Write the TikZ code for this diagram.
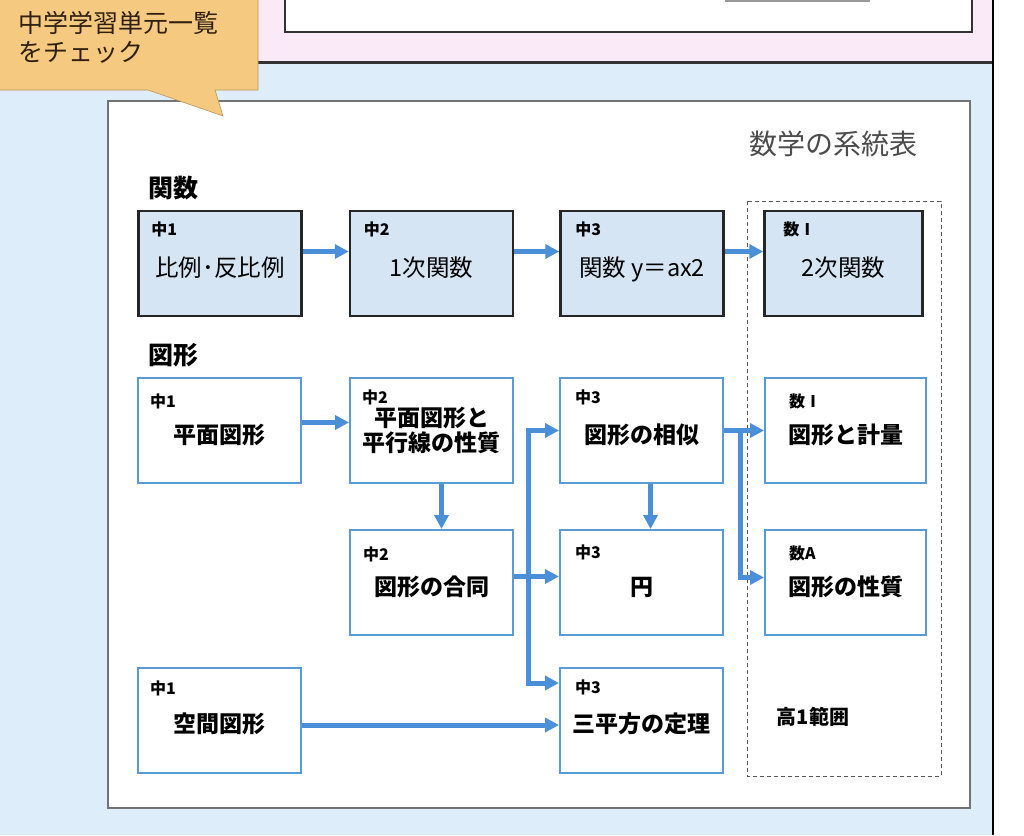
\documentclass[tikz,border=0pt]{standalone}
\usepackage{fontspec}
\setmainfont{Noto Sans CJK JP}
\usepackage{tikz}
\usetikzlibrary{arrows.meta,positioning}
\definecolor{bgblue}{HTML}{DDEDF9}
\definecolor{bgpink}{HTML}{FAE9F6}
\definecolor{bubble}{HTML}{F5C97F}
\definecolor{flowblue}{HTML}{4A8FD8}
\definecolor{boxblue}{HTML}{5B9BD5}
\definecolor{fillblue}{HTML}{D5E5F4}
\tikzstyle{func box}=[draw=black!85, line width=2.5pt, fill=fillblue, minimum width=163pt, minimum height=105pt, inner sep=0pt, font=\fontsize{23.5}{27}\selectfont, text height=28pt, text depth=2.5pt]
\tikzstyle{geo box}=[draw=boxblue, line width=2pt, fill=white, minimum width=163pt, minimum height=105pt, inner sep=0pt, font=\bfseries\fontsize{23}{25}\selectfont, text height=28pt, text depth=2.5pt]
\tikzstyle{grade}=[font=\bfseries\fontsize{16}{18}\selectfont, anchor=north west, inner sep=0pt]
\tikzstyle{flow}=[-{Triangle[length=14pt,width=14pt]}, line width=5pt, flowblue]
\tikzstyle{section label}=[font=\bfseries\fontsize{25}{30}\selectfont, anchor=west, inner sep=0pt]
\tikzstyle{range frame}=[draw=black!65, line width=1pt, dash pattern=on 4pt off 3pt]

\begin{document}
\begin{tikzpicture}[x=1pt, y=-1pt]
        \useasboundingbox (0,0) rectangle (1024,835);
        % 背景
        \fill[bgblue] (0,62) rectangle (993,835);
        \fill[bgpink] (258,0) rectangle (993,62);
        \fill[white] (993,0) rectangle (1024,835);
        \draw[fill=white, draw=black!80, line width=2pt] (285,-4) rectangle (972,32);
        \draw[black!40, line width=1.5pt] (725,1) -- (870,1);
        \draw[black!80, line width=3pt] (258,62) -- (993,62);
        \draw[black, line width=2pt] (993,0) -- (993,835);

        % 系統表
        \draw[fill=white, draw=black!55, line width=1.2pt] (108,101) rectangle (970,808);
        \node[text=black!70, font=\fontsize{28}{32}\selectfont] (title) at (833,144) {数学の系統表};
        \draw[range frame] (747,201) rectangle (941,776);

        % 吹き出し
        \draw[fill=bubble, draw=bubble!75!black, line width=0.6pt] (-2,-2) -- (258,-2) -- (258,90) -- (215,90) -- (223,116) -- (148,90) -- (-2,90) -- cycle;
        \node[anchor=north west, align=left, inner sep=0pt, text=black!75!brown, font=\fontsize{25}{29}\selectfont] (check) at (18,11) {中学学習単元一覧\\をチェック};

        % 関数
        \node[section label] (kansu) at (148,188) {関数};
        \node[func box] (f1) at (220,263.5) {比例･反比例};
        \node[func box] (f2) at (431.5,263.5) {1次関数};
        \node[func box] (f3) at (642,263.5) {関数 y＝ax2};
        \node[func box, minimum width=158pt] (f4) at (843.5,263.5) {2次関数};
        \node[grade] at ([xshift=14pt,yshift=-12pt]f1.north west) {中1};
        \node[grade] at ([xshift=15pt,yshift=-12pt]f2.north west) {中2};
        \node[grade] at ([xshift=16pt,yshift=-12pt]f3.north west) {中3};
        \node[grade] at ([xshift=20pt,yshift=-12pt]f4.north west) {数Ⅰ};
        \draw[flow] ([yshift=12pt]f1.east) -- ([yshift=12pt]f2.west);
        \draw[flow] ([yshift=12pt]f2.east) -- ([yshift=12pt]f3.west);
        \draw[flow] ([yshift=12pt]f3.east) -- ([yshift=12pt]f4.west);

        % 図形
        \node[section label] (zukei) at (148,355) {図形};
        \node[geo box] (g1) at (219.5,430.5) {平面図形};
        \node[geo box, text height=, text depth=, align=center] (g2) at (431.5,430.5) {平面図形と\\平行線の性質};
        \node[geo box] (g3) at (641.5,430.5) {図形の相似};
        \node[geo box, minimum width=161pt] (g4) at (845.5,430.5) {図形と計量};
        \node[geo box] (g5) at (431.5,582.5) {図形の合同};
        \node[geo box] (g6) at (641.5,582.5) {円};
        \node[geo box, minimum width=161pt] (g7) at (845.5,582.5) {図形の性質};
        \node[geo box] (g8) at (219.5,720) {空間図形};
        \node[geo box] (g9) at (641.5,720) {三平方の定理};
        \node[grade] at ([xshift=13pt,yshift=-17pt]g1.north west) {中1};
        \node[grade] at ([xshift=13pt,yshift=-13pt]g2.north west) {中2};
        \node[grade] at ([xshift=16pt,yshift=-13pt]g3.north west) {中3};
        \node[grade] at ([xshift=25pt,yshift=-17pt]g4.north west) {数Ⅰ};
        \node[grade] at ([xshift=14pt,yshift=-18pt]g5.north west) {中2};
        \node[grade] at ([xshift=16pt,yshift=-16pt]g6.north west) {中3};
        \node[grade] at ([xshift=25pt,yshift=-17pt]g7.north west) {数A};
        \node[grade] at ([xshift=13pt,yshift=-14pt]g8.north west) {中1};
        \node[grade] at ([xshift=16pt,yshift=-13pt]g9.north west) {中3};
        \draw[flow] ([yshift=8pt]g1.east) -- ([yshift=8pt]g2.west);
        \draw[flow] ([xshift=10pt]g2.south) -- ([xshift=10pt]g5.north);
        \draw[flow] ([yshift=6pt]g5.east) -- ([yshift=6pt]g6.west);
        \draw[flow] ([xshift=14pt,yshift=6pt]g5.east) |- (g3.west);
        \draw[flow] ([xshift=14pt,yshift=6pt]g5.east) |- ([yshift=37pt]g9.west);
        \draw[flow] ([xshift=9pt]g3.south) -- ([xshift=9pt]g6.north);
        \draw[flow] (g3.east) -- (g4.west);
        \draw[flow] ([xshift=16pt]g3.east) |- ([yshift=5pt]g7.west);
        \draw[flow] ([yshift=-5pt]g8.east) -- ([yshift=-5pt]g9.west);

        % 高1範囲
        \node[font=\bfseries\fontsize{20}{24}\selectfont] (koko) at (813,717) {高1範囲};
    \end{tikzpicture}
\end{document}
